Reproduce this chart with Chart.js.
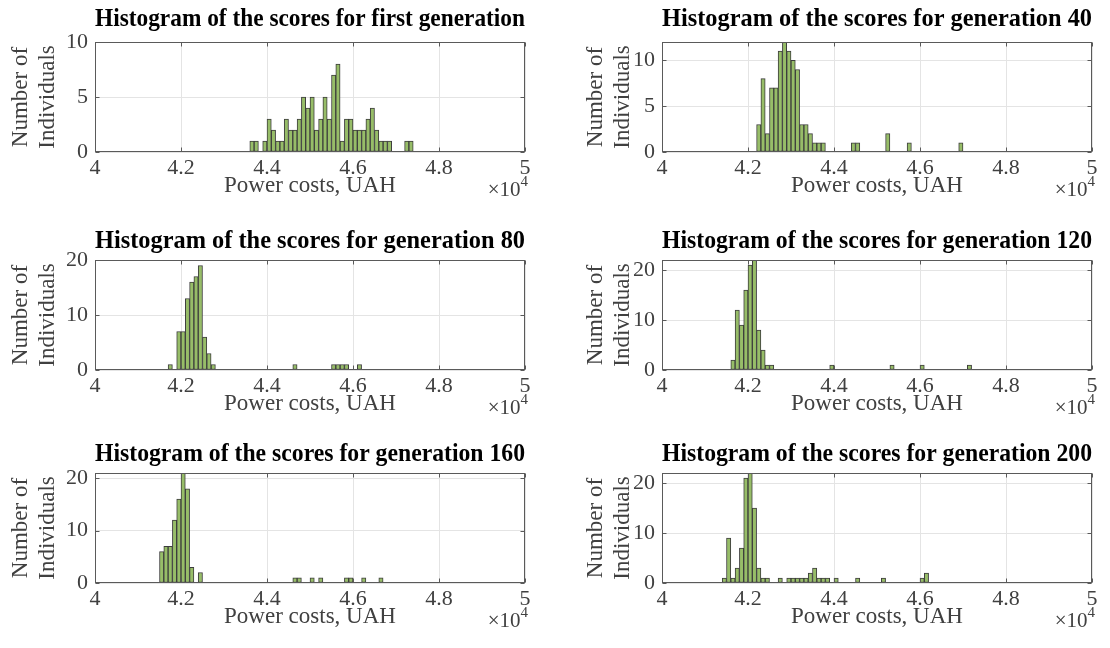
<!DOCTYPE html>
<html>
<head>
<meta charset="utf-8">
<script src="https://cdn.jsdelivr.net/npm/chart.js@4.4.1/dist/chart.umd.min.js"></script>
<style>
html, body { margin: 0; padding: 0; background: #ffffff; width: 1110px; height: 648px; overflow: hidden; }
canvas { position: absolute; }
</style>
</head>
<body>
<script>
// ---------------- DATA ----------------
const BIN_WIDTH = 100;          // UAH per histogram bin
const X_MIN = 40000, X_MAX = 50000, X_STEP = 2000;

// bin left edges (UAH) and counts, non-empty bins only
const gen1Bins   = [43600,43700,43900,44000,44100,44200,44300,44400,44500,44600,44700,44800,44900,45000,45100,45200,45300,45400,45500,45600,45700,45800,45900,46000,46100,46200,46300,46400,46500,46600,46700,46800,47200,47300];
const gen1Counts = [1,1,1,3,2,1,1,3,2,2,3,5,4,5,2,3,5,3,7,8,1,3,3,2,2,2,3,4,2,1,1,1,1,1];

const gen40Bins   = [42200,42300,42400,42500,42600,42700,42800,42900,43000,43100,43200,43300,43400,43500,43600,43700,44400,44500,45200,45700,46900];
const gen40Counts = [3,8,2,7,7,11,12,11,10,9,3,3,2,1,1,1,1,1,2,1,1];

const gen80Bins   = [41700,41900,42000,42100,42200,42300,42400,42500,42600,42700,44600,45500,45600,45700,45800,46100];
const gen80Counts = [1,7,7,13,16,17,19,6,3,1,1,1,1,1,1,1];

const gen120Bins   = [41600,41700,41800,41900,42000,42100,42200,42300,42400,42500,43900,45300,46000,47100];
const gen120Counts = [2,12,9,16,21,22,8,4,1,1,1,1,1,1];

const gen160Bins   = [41500,41600,41700,41800,41900,42000,42100,42200,42400,44600,44700,45000,45200,45800,45900,46200,46600];
const gen160Counts = [6,7,7,12,16,21,18,3,2,1,1,1,1,1,1,1,1];

const gen200Bins   = [41400,41500,41600,41700,41800,41900,42000,42100,42200,42300,42400,42700,42900,43000,43100,43200,43300,43400,43500,43600,43700,43800,44000,44500,45100,46000,46100];
const gen200Counts = [1,9,1,3,7,21,22,15,3,1,1,1,1,1,1,1,1,2,3,1,1,1,1,1,1,1,2];

const panelTitles = [
  "Histogram of the scores for first generation",
  "Histogram of the scores for generation 40",
  "Histogram of the scores for generation 80",
  "Histogram of the scores for generation 120",
  "Histogram of the scores for generation 160",
  "Histogram of the scores for generation 200"
];
const panelBins   = [gen1Bins, gen40Bins, gen80Bins, gen120Bins, gen160Bins, gen200Bins];
const panelCounts = [gen1Counts, gen40Counts, gen80Counts, gen120Counts, gen160Counts, gen200Counts];
const yMaxList  = [10, 12, 20, 22, 21, 22];
const yStepList = [5, 5, 10, 10, 10, 10];
const xLabel = "Power costs, UAH";
const yLabel = ["Number of", "Individuals"];

// ---------------- STYLE / LAYOUT ----------------
const FONT = "'Liberation Serif', 'Times New Roman', serif";
const TEXT_COLOR = '#404040';
const CANVAS_W = 555, CANVAS_H = 210;
const colLeft = [0, 555];
const rowTop = [0, 218, 431];
const yAxisWidth = [95, 107];
const padRight = [30, 18];
const yTitlePad = [8, 28];
const titlePadTop = [5, 9, 9];

const boxPlugin = {
  id: 'matlabBox',
  afterDraw(chart) {
    const { ctx, chartArea: a, scales: { x, y } } = chart;
    const L = Math.round(a.left) + 0.5, R = Math.round(a.right) - 0.5;
    const T = Math.round(a.top) + 0.5, B = Math.round(a.bottom) - 0.5;
    ctx.save();
    ctx.strokeStyle = '#5a5a5a';
    ctx.lineWidth = 1;
    ctx.strokeRect(L, T, R - L, B - T);
    ctx.beginPath();
    x.ticks.forEach((t, i) => {
      const px = Math.round(x.getPixelForTick(i)) + 0.5;
      ctx.moveTo(px, B); ctx.lineTo(px, B - 4);
      ctx.moveTo(px, T); ctx.lineTo(px, T + 4);
    });
    y.ticks.forEach((t, i) => {
      const py = Math.round(y.getPixelForTick(i)) + 0.5;
      ctx.moveTo(L, py); ctx.lineTo(L + 4, py);
      ctx.moveTo(R, py); ctx.lineTo(R - 4, py);
    });
    ctx.stroke();
    // exponent label  x10^4
    ctx.fillStyle = TEXT_COLOR;
    ctx.textBaseline = 'alphabetic';
    ctx.font = `15px ${FONT}`;
    const w4 = ctx.measureText('4').width;
    ctx.textAlign = 'left';
    const xEnd = a.right + 3;
    ctx.fillText('4', xEnd - w4, a.bottom + 34);
    ctx.font = `21px ${FONT}`;
    ctx.textAlign = 'right';
    ctx.fillText('\u00d710', xEnd - w4, a.bottom + 44);
    ctx.restore();
  }
};

for (let p = 0; p < 6; p++) {
  const col = p % 2, row = Math.floor(p / 2);
  const cv = document.createElement('canvas');
  cv.width = CANVAS_W; cv.height = CANVAS_H;
  cv.style.left = colLeft[col] + 'px';
  cv.style.top = rowTop[row] + 'px';
  cv.style.width = CANVAS_W + 'px';
  cv.style.height = CANVAS_H + 'px';
  document.body.appendChild(cv);

  const bins = panelBins[p], counts = panelCounts[p];
  new Chart(cv, {
    type: 'bar',
    data: {
      datasets: [{
        data: bins.map((b, i) => ({ x: b + BIN_WIDTH / 2, y: counts[i] })),
        backgroundColor: '#97bd68',
        borderColor: '#3d3d3d',
        borderWidth: 1,
        borderSkipped: false,
        barPercentage: 1,
        categoryPercentage: 1
      }]
    },
    options: {
      responsive: false,
      animation: false,
      devicePixelRatio: 1,
      layout: { padding: { left: 0, right: padRight[col], top: 0, bottom: 0 } },
      plugins: {
        legend: { display: false },
        tooltip: { enabled: false },
        title: {
          display: true,
          text: panelTitles[p],
          fullSize: false,
          color: '#000000',
          font: { family: FONT, size: 25, weight: 'bold', lineHeight: 1.2 },
          padding: { top: titlePadTop[row], bottom: 12 - titlePadTop[row] }
        }
      },
      scales: {
        x: {
          type: 'linear',
          min: X_MIN, max: X_MAX,
          offset: false,
          grid: { color: '#e4e4e4', drawTicks: false, offset: false },
          border: { display: false },
          ticks: {
            stepSize: X_STEP,
            autoSkip: false,
            maxRotation: 0,
            padding: 3,
            color: TEXT_COLOR,
            font: { family: FONT, size: 22 },
            callback: v => String(v / 10000)
          },
          title: {
            display: true,
            text: xLabel,
            color: TEXT_COLOR,
            font: { family: FONT, size: 23, lineHeight: 1.2 },
            padding: { top: 0, bottom: 10 }
          },
          afterFit: s => { s.height = 58; }
        },
        y: {
          min: 0,
          max: yMaxList[p],
          grid: { color: '#e4e4e4', drawTicks: false },
          border: { display: false },
          ticks: {
            stepSize: yStepList[p],
            includeBounds: false,
            padding: 7,
            color: TEXT_COLOR,
            font: { family: FONT, size: 22 }
          },
          title: {
            display: true,
            text: yLabel,
            color: TEXT_COLOR,
            font: { family: FONT, size: 23, lineHeight: 1.15 },
            padding: { top: yTitlePad[col], bottom: 0 }
          },
          afterFit: s => { s.width = yAxisWidth[col]; }
        }
      }
    },
    plugins: [boxPlugin]
  });
}
</script>
</body>
</html>
